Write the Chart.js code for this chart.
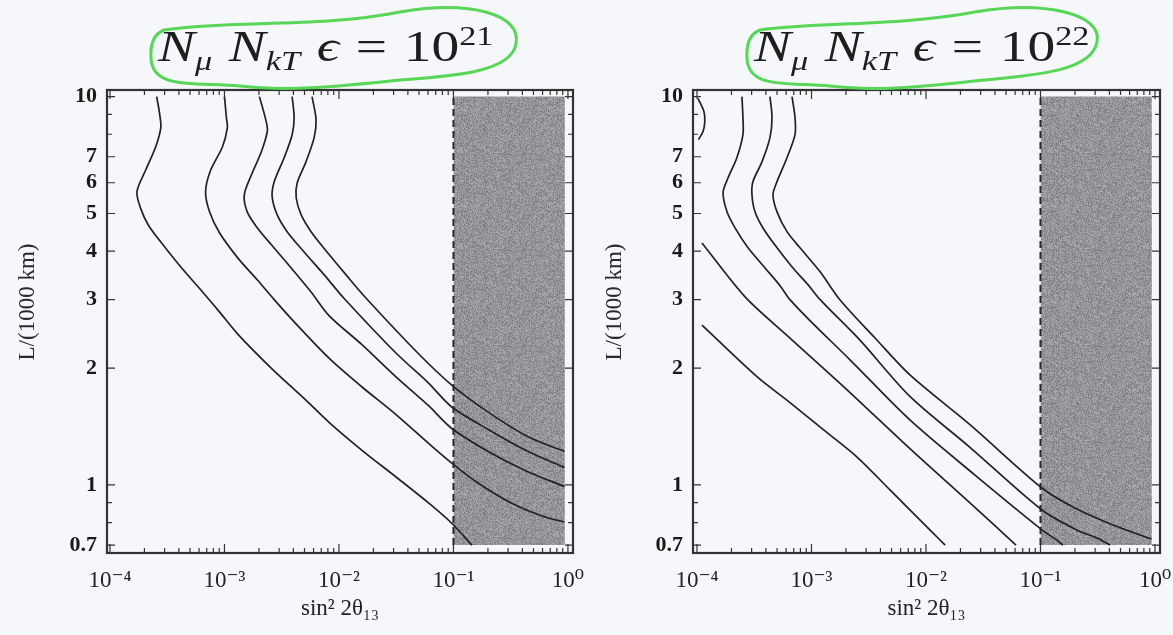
<!DOCTYPE html>
<html><head><meta charset="utf-8">
<script src="https://cdn.jsdelivr.net/npm/chart.js@4.4.1/dist/chart.umd.min.js"></script>
<style>
html,body{margin:0;padding:0;background:#f5f7fb;}
body{width:1173px;height:635px;position:relative;overflow:hidden;font-family:'Liberation Serif','DejaVu Serif',serif;}
canvas{position:absolute;top:0;}
#c1{left:0;} #c2{left:590px;}
svg{position:absolute;left:0;top:0;}
.ttl{position:absolute;font-size:44px;color:#1e1e1e;white-space:nowrap;line-height:1;transform:scaleX(1.26);transform-origin:0 0;}
.ttl i{font-style:italic;}
.ttl .sb{font-size:0.62em;position:relative;top:0.32em;}
.ttl .sp{font-size:0.62em;position:relative;top:-0.58em;}
.ttl .g1{margin-left:0.3em;} .ttl .g2{margin-left:0.3em;} .ttl .g3{margin:0 0.3em;}
</style></head>
<body>
<canvas id="c1" width="590" height="635"></canvas>
<canvas id="c2" width="583" height="635"></canvas>
<svg width="1173" height="100">
 <path d="M 164,30 C 230,20 320,28 400,12 C 470,0 522,14 516,44 C 511,72 455,76 400,80 C 340,86 290,92 240,86 C 195,82 152,90 151,58 C 150,43 154,34 164,30 Z" fill="none" stroke="#57d657" stroke-width="3"/>
 <path d="M 760,30 C 820,22 900,26 975,12 C 1045,0 1103,14 1097,42 C 1092,70 1040,75 985,80 C 925,86 880,92 830,86 C 790,82 748,90 747,58 C 746,43 750,34 760,30 Z" fill="none" stroke="#57d657" stroke-width="3"/>
</svg>
<div class="ttl" style="left:158px;top:25px;"><i>N</i><span class="sb"><i>μ</i></span><span class="g1"></span><i>N</i><span class="sb"><i>kT</i></span><span class="g2"></span><i>ϵ</i><span class="g3">=</span>10<span class="sp">21</span></div>
<div class="ttl" style="left:754px;top:25px;"><i>N</i><span class="sb"><i>μ</i></span><span class="g1"></span><i>N</i><span class="sb"><i>kT</i></span><span class="g2"></span><i>ϵ</i><span class="g3">=</span>10<span class="sp">22</span></div>
<script>
// ---------- axis ticks ----------
const xTickValues = [1e-4, 1e-3, 1e-2, 1e-1, 1];
const xTickLabels = ['10⁻⁴', '10⁻³', '10⁻²', '10⁻¹', '10⁰'];
const yTickValues = [0.7, 1, 2, 3, 4, 5, 6, 7, 10];
const yTickLabels = ['0.7', '1', '2', '3', '4', '5', '6', '7', '10'];
const yMinorValues = [0.8, 0.9, 8, 9];

// ---------- shaded excluded region ----------
const shadeX = [0.1, 0.94];
const shadeY = [0.7, 10];

// ---------- N_mu N_kT eps = 1e21 ----------
const a_c1_x = [2.56e-4, 2.72e-4, 2.78e-4, 2.51e-4, 2.06e-4, 1.72e-4, 1.86e-4, 2.18e-4, 2.95e-4, 4.23e-4, 6.44e-4, 9.05e-4, 1.30e-3, 2.56e-3, 4.96e-3, 8.19e-3, 1.58e-2, 3.13e-2, 6.06e-2, 9.61e-2, 0.145];
const a_c1_y = [10, 8.99, 8.32, 7.43, 6.49, 5.69, 5.14, 4.65, 4.13, 3.62, 3.14, 2.79, 2.45, 2.00, 1.67, 1.45, 1.23, 1.05, 0.899, 0.798, 0.70];
const a_c2_x = [1.0e-3, 1.04e-3, 1.06e-3, 9.61e-4, 7.55e-4, 6.84e-4, 7.41e-4, 9.05e-4, 1.30e-3, 1.94e-3, 2.72e-3, 4.06e-3, 8.19e-3, 1.58e-2, 3.13e-2, 6.06e-2, 9.61e-2, 0.165, 0.319, 0.631, 0.93];
const a_c2_y = [10, 8.83, 8.32, 7.43, 6.45, 5.69, 5.05, 4.46, 3.85, 3.37, 3.00, 2.63, 2.12, 1.79, 1.52, 1.28, 1.14, 1.01, 0.899, 0.827, 0.803];
const a_c3_x = [2.02e-3, 2.27e-3, 2.37e-3, 2.10e-3, 1.72e-3, 1.49e-3, 1.58e-3, 1.94e-3, 2.56e-3, 3.83e-3, 5.71e-3, 8.19e-3, 1.58e-2, 3.13e-2, 6.06e-2, 9.61e-2, 0.201, 0.423, 0.93];
const a_c3_y = [10, 8.83, 8.17, 7.21, 6.29, 5.59, 5.05, 4.59, 4.16, 3.62, 3.14, 2.73, 2.30, 1.90, 1.60, 1.40, 1.22, 1.09, 0.99];
const a_c4_x = [3.90e-3, 4.06e-3, 3.90e-3, 3.32e-3, 2.72e-3, 2.61e-3, 2.89e-3, 3.53e-3, 4.96e-3, 7.41e-3, 1.10e-2, 3.13e-2, 6.06e-2, 9.61e-2, 0.201, 0.449, 0.93];
const a_c4_y = [10, 8.83, 7.98, 6.96, 6.04, 5.52, 4.96, 4.49, 3.98, 3.48, 3.03, 2.19, 1.83, 1.59, 1.39, 1.22, 1.11];
const a_c5_x = [5.82e-3, 6.31e-3, 6.07e-3, 5.16e-3, 4.32e-3, 4.23e-3, 4.68e-3, 5.71e-3, 7.87e-3, 1.15e-2, 1.72e-2, 4.86e-2, 9.61e-2, 0.201, 0.449, 0.93];
const a_c5_y = [10, 8.73, 7.84, 6.80, 6.00, 5.49, 4.96, 4.49, 3.98, 3.48, 3.03, 2.19, 1.81, 1.54, 1.33, 1.22];

// ---------- N_mu N_kT eps = 1e22 ----------
const b_c0_x = [1.02e-4, 1.15e-4, 1.17e-4, 1.13e-4, 1.03e-4];
const b_c0_y = [9.9, 9.15, 8.62, 8.13, 7.75];
const b_c1_x = [2.47e-4, 2.52e-4, 2.52e-4, 2.23e-4, 1.87e-4, 1.69e-4, 1.83e-4, 2.15e-4, 2.79e-4, 3.93e-4, 5.31e-4, 6.49e-4, 9.70e-4, 2.17e-3, 7.24e-3, 2.68e-2, 0.103, 0.139, 0.157];
const b_c1_y = [10, 8.83, 7.98, 6.96, 6.18, 5.66, 5.05, 4.59, 4.08, 3.62, 3.26, 3.00, 2.65, 2.10, 1.47, 1.06, 0.766, 0.721, 0.70];
const b_c2_x = [4.34e-4, 4.52e-4, 4.34e-4, 3.70e-4, 3.08e-4, 3.02e-4, 3.21e-4, 3.77e-4, 5.0e-4, 6.89e-4, 9.31e-4, 1.19e-3, 2.65e-3, 7.24e-3, 2.42e-2, 0.103, 0.208, 0.311, 0.405];
const b_c2_y = [10, 8.83, 7.84, 6.80, 6.04, 5.59, 5.05, 4.59, 4.08, 3.62, 3.28, 3.00, 2.36, 1.69, 1.25, 0.862, 0.766, 0.730, 0.70];
const b_c3_x = [6.76e-4, 7.18e-4, 7.18e-4, 6.11e-4, 5.0e-4, 4.61e-4, 5.0e-4, 6.11e-4, 7.94e-4, 1.19e-3, 1.77e-3, 3.59e-3, 7.24e-3, 2.42e-2, 0.103, 0.20, 0.389, 0.74, 0.93];
const b_c3_y = [10, 8.83, 7.98, 6.96, 6.04, 5.59, 5.05, 4.49, 4.08, 3.54, 3.00, 2.39, 1.92, 1.43, 0.982, 0.872, 0.798, 0.743, 0.726];
const b_l1_x = [1.106e-4, 2.63e-4, 6.49e-4, 2.17e-3, 7.24e-3, 2.42e-2, 6.11e-2];
const b_l1_y = [4.20, 3.05, 2.39, 1.73, 1.24, 0.899, 0.70];
const b_l2_x = [1.106e-4, 3.34e-4, 6.49e-4, 1.26e-3, 2.50e-3, 4.85e-3, 1.08e-2, 1.47e-2];
const b_l2_y = [2.58, 1.90, 1.63, 1.39, 1.18, 0.971, 0.766, 0.70];

const FONT = "'Liberation Serif', 'DejaVu Serif', serif";
Chart.defaults.font.family = FONT;
Chart.defaults.color = '#222';

function pts(xs, ys) { return xs.map((x, i) => ({x: x, y: ys[i]})); }

// speckled gray texture for the shaded region (style only, deterministic hash)
function makeTexture() {
  const N = 96;
  const c = document.createElement('canvas');
  c.width = N; c.height = N;
  const g = c.getContext('2d');
  const img = g.createImageData(N, N);
  for (let j = 0; j < N; j++) for (let i = 0; i < N; i++) {
    let h = Math.imul(i + 1, 0x9E3779B1) ^ Math.imul(j + 7, 0x85EBCA77);
    h = Math.imul(h ^ (h >>> 15), 0x2C1B3C6D);
    h = Math.imul(h ^ (h >>> 12), 0x297A2D39);
    h = (h ^ (h >>> 15)) >>> 0;
    const v = 148 + ((h & 255) / 255 - 0.5) * 50;
    const k = (j * N + i) * 4;
    img.data[k] = v; img.data[k+1] = v; img.data[k+2] = v + 4; img.data[k+3] = 255;
  }
  g.putImageData(img, 0, 0);
  return c;
}
const tex = makeTexture();

const framePlugin = {
  id: 'frame',
  afterDatasetsDraw(chart, args, opts) {
    const {ctx, chartArea: a} = chart;
    const xs = chart.scales.x, ys = chart.scales.y;
    ctx.save();
    ctx.strokeStyle = '#333';
    ctx.lineWidth = 1.2;
    ctx.beginPath();
    const xMinor = [];
    for (let d = -4; d < 0; d++) for (let m = 2; m <= 9; m++) xMinor.push(m * Math.pow(10, d));
    xTickValues.forEach(v => { const p = xs.getPixelForValue(v);
      ctx.moveTo(p, a.bottom); ctx.lineTo(p, a.bottom - 9); ctx.moveTo(p, a.top); ctx.lineTo(p, a.top + 9); });
    xMinor.forEach(v => { const p = xs.getPixelForValue(v);
      ctx.moveTo(p, a.bottom); ctx.lineTo(p, a.bottom - 5); ctx.moveTo(p, a.top); ctx.lineTo(p, a.top + 5); });
    yTickValues.forEach(v => { const p = ys.getPixelForValue(v);
      ctx.moveTo(a.left, p); ctx.lineTo(a.left + 8, p); ctx.moveTo(a.right, p); ctx.lineTo(a.right - 8, p); });
    yMinorValues.forEach(v => { const p = ys.getPixelForValue(v);
      ctx.moveTo(a.left, p); ctx.lineTo(a.left + 5, p); ctx.moveTo(a.right, p); ctx.lineTo(a.right - 5, p); });
    ctx.stroke();
    ctx.lineWidth = 2.2;
    ctx.strokeRect(a.left, a.top, a.right - a.left, a.bottom - a.top);
    ctx.fillStyle = '#2a2a2a';
    ctx.font = "23px " + FONT;
    ctx.translate(opts.tx, opts.ty);
    ctx.rotate(-Math.PI / 2);
    ctx.textAlign = 'center';
    ctx.textBaseline = 'middle';
    ctx.fillText('L/(1000 km)', 0, 0);
    ctx.restore();
  }
};

function makeChart(id, curves, yW, padRight, xMin, xMax, tx) {
  const ctx = document.getElementById(id).getContext('2d');
  const pattern = ctx.createPattern(tex, 'repeat');
  const datasets = [];
  datasets.push({
    data: pts(shadeX, [shadeY[1], shadeY[1]]), borderWidth: 0, pointRadius: 0,
    backgroundColor: pattern, fill: {value: shadeY[0]}, order: 10
  });
  datasets.push({
    data: pts([shadeX[0], shadeX[0]], shadeY), borderColor: '#2a2a2a', borderWidth: 2,
    borderDash: [7, 4], pointRadius: 0, fill: false, order: 5
  });
  curves.forEach(c => datasets.push({
    data: pts(c[0], c[1]), borderColor: '#222', borderWidth: 1.7, pointRadius: 0,
    tension: 0.3, fill: false, order: 0
  }));
  return new Chart(ctx, {
    type: 'line',
    data: {datasets: datasets},
    options: {
      responsive: false, animation: false, devicePixelRatio: 1,
      layout: {padding: {left: 0, top: 90, right: padRight, bottom: 0}},
      plugins: {legend: {display: false}, tooltip: {enabled: false}, frame: {tx: tx, ty: 302}},
      scales: {
        x: {
          type: 'logarithmic', min: xMin, max: xMax,
          afterBuildTicks: s => { s.ticks = xTickValues.map(v => ({value: v})); },
          afterFit: s => { s.height = 82; s.paddingLeft = 0; s.paddingRight = 0; },
          grid: {display: false, drawTicks: false}, border: {display: false},
          ticks: {autoSkip: false, maxRotation: 0, padding: 14, color: '#222',
                  font: {size: 23}, callback: (v, i) => xTickLabels[i]},
          title: {display: true, text: 'sin² 2θ₁₃', font: {size: 23}, color: '#222',
                  padding: {top: 0, bottom: 12}}
        },
        y: {
          type: 'logarithmic', min: 0.668, max: 10.4,
          afterBuildTicks: s => { s.ticks = yTickValues.map(v => ({value: v})); },
          afterFit: s => { s.width = yW; s.paddingTop = 0; s.paddingBottom = 0; },
          grid: {display: false, drawTicks: false}, border: {display: false},
          ticks: {autoSkip: false, padding: 10, color: '#1a1a1a', font: {size: 22, weight: 'bold'},
                  callback: (v, i) => yTickLabels[i]}
        }
      }
    },
    plugins: [framePlugin]
  });
}

makeChart('c1', [[a_c1_x, a_c1_y], [a_c2_x, a_c2_y], [a_c3_x, a_c3_y], [a_c4_x, a_c4_y], [a_c5_x, a_c5_y]],
  107, 17, 9.42e-5, 1.107, 28);
makeChart('c2', [[b_c0_x, b_c0_y], [b_c1_x, b_c1_y], [b_c2_x, b_c2_y], [b_c3_x, b_c3_y], [b_l1_x, b_l1_y], [b_l2_x, b_l2_y]],
  103, 13, 9.23e-5, 1.106, 25);
</script>
</body></html>
